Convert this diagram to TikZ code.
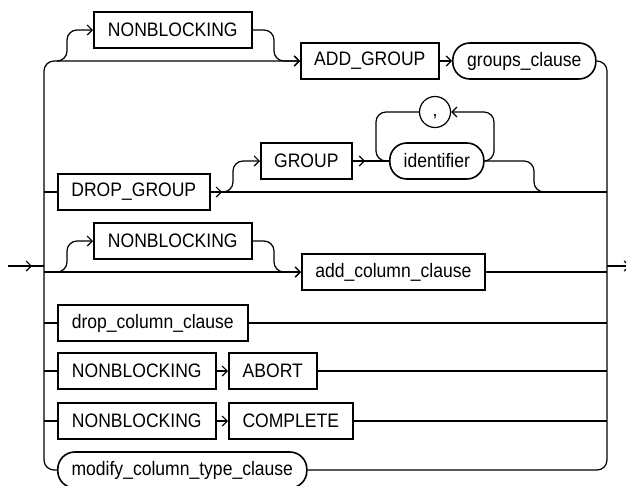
\documentclass[tikz,border=0pt]{standalone}
\usepackage{fontspec}
\setmainfont[FakeStretch=0.9]{Liberation Sans}
\usetikzlibrary{arrows.meta}
\begin{document}
\begin{tikzpicture}[x=1pt, y=-1pt,
        kw/.style={draw, line width=1.6pt, minimum height=36pt, anchor=west,
                inner sep=0pt, font=\fontsize{19.5}{22}\selectfont},
        ref/.style={kw, rounded corners=17pt},
        line/.style={line width=1.2pt},
        arrow/.style={line, -{Straight Barb[length=5pt,width=10pt]}},
        curve/.style={line, rounded corners=10pt}
    ]
    \useasboundingbox (0,0) rectangle (626,485);

    \node[kw, minimum width=158pt] (nb1) at (93,30) {NONBLOCKING};
    \node[kw, minimum width=138pt] (addgrp) at (300,61) {ADD\_GROUP};
    \node[ref, minimum width=143pt] (grpcl) at (452,61) {groups\_clause};
    \node[kw, minimum width=152pt] (dropgrp) at (57,192) {DROP\_GROUP};
    \node[kw, minimum width=91pt] (grp) at (260,161) {GROUP};
    \node[ref, minimum width=94pt] (ident) at (389,161) {identifier};
    \node[circle, draw, line width=1.2pt, minimum size=31pt, inner sep=0pt,
        font=\fontsize{19.5}{22}\selectfont] (comma) at (435,112) {\vphantom{Ag},};
    \node[kw, minimum width=158pt] (nb2) at (93,241) {NONBLOCKING};
    \node[kw, minimum width=183pt] (addcol) at (301,272) {add\_column\_clause};
    \node[kw, minimum width=190pt] (dropcol) at (57,323) {drop\_column\_clause};
    \node[kw, minimum width=158pt] (nb3) at (57,371) {NONBLOCKING};
    \node[kw, minimum width=88pt] (abort) at (228,371) {ABORT};
    \node[kw, minimum width=158pt] (nb4) at (57,421) {NONBLOCKING};
    \node[kw, minimum width=124pt] (complete) at (228,421) {COMPLETE};
    \node[ref, minimum width=249pt] (modify) at (57,470) {modify\_column\_type\_clause};

    \coordinate (start) at (8,266);
    \coordinate (exit) at (630,266);
    \coordinate (lt) at (44,61);
    \coordinate (rt) at (607,61);
    \coordinate (s1) at (57,61);
    \coordinate (s3) at (57,272);
    \coordinate (g1) at (222,192);

    \draw[line] (start) -- (start -| lt);
    \draw[arrow, shorten >=12pt] (start) -- (start -| lt);
    \draw[arrow] (start -| rt) -- (exit);

    \draw[arrow, curve] (modify.west) -| (lt) -- (addgrp.west);
    \draw[curve] (grpcl.east) -| (rt |- modify) -- (modify.east);

    \draw[arrow, curve] (s1) -| (67,30) -- (nb1.west);
    \draw[arrow, curve] (nb1.east) -| (274,61) -- (addgrp.west);
    \draw[arrow] (addgrp.east) -- (grpcl.west);

    \draw[line] (dropgrp.west -| lt) -- (dropgrp.west);
    \draw[line] (dropgrp.east) -- (dropgrp.east -| rt);
    \draw[arrow] (dropgrp.east) -- (g1);
    \draw[arrow, curve] (g1) -| (233,161) -- (grp.west);
    \draw[line] (grp.east) -- (ident.west);
    \draw[arrow, shorten >=24pt] (grp.east) -- (ident.west);
    \draw[arrow, curve] (ident.east) -| (494,112) -- (comma.east);
    \draw[curve] (comma.west) -| (376,161) -- (ident.west);
    \draw[curve] (ident.east) -| (534,192) -- (dropgrp.east -| rt);

    \draw[arrow] (addcol.west -| lt) -- (addcol.west);
    \draw[arrow, curve] (s3) -| (67,241) -- (nb2.west);
    \draw[arrow, curve] (nb2.east) -| (274,272) -- (addcol.west);
    \draw[line] (addcol.east) -- (addcol.east -| rt);

    \draw[line] (dropcol.west -| lt) -- (dropcol.west);
    \draw[line] (dropcol.east) -- (dropcol.east -| rt);

    \draw[line] (nb3.west -| lt) -- (nb3.west);
    \draw[arrow] (nb3.east) -- (abort.west);
    \draw[line] (abort.east) -- (abort.east -| rt);

    \draw[line] (nb4.west -| lt) -- (nb4.west);
    \draw[arrow] (nb4.east) -- (complete.west);
    \draw[line] (complete.east) -- (complete.east -| rt);
\end{tikzpicture}
\end{document}
